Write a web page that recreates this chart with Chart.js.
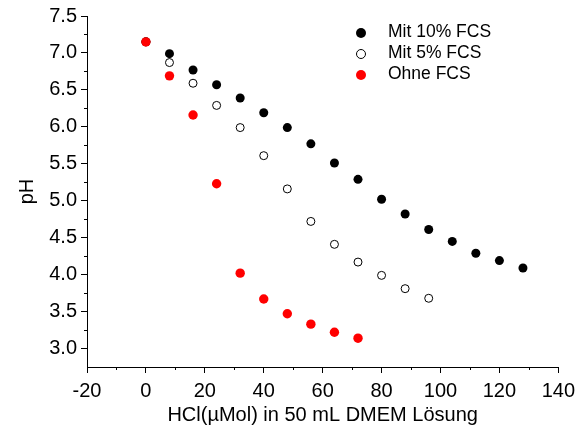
<!DOCTYPE html>
<html>
<head>
<meta charset="utf-8">
<script src="https://cdn.jsdelivr.net/npm/chart.js@4"></script>
<style>
  body { margin: 0; background: #fff; }
  #wrap { position: relative; width: 581px; height: 432px; }
  .legend { position: absolute; left: 356px; top: 21px; font: 17.5px "Liberation Sans", Arial, sans-serif; color: #000; }
  .legend div { height: 21px; line-height: 21px; white-space: nowrap; }
  .dot { display: inline-block; width: 10px; height: 10px; border-radius: 50%; box-sizing: border-box; margin-right: 22px; vertical-align: -1px; }
</style>
</head>
<body>
<div id="wrap">
  <canvas id="c" width="581" height="432"></canvas>
  <div class="legend">
    <div><span class="dot" style="background:#000"></span>Mit 10% FCS</div>
    <div><span class="dot" style="border:1px solid #000;background:#fff"></span>Mit 5% FCS</div>
    <div><span class="dot" style="background:#f00"></span>Ohne FCS</div>
  </div>
</div>
<script>
const hclValues = [0, 8, 16, 24, 32, 40, 48, 56, 64, 72, 80, 88, 96, 104, 112, 120, 128];
const fcs10 = [7.15, 6.99, 6.77, 6.57, 6.39, 6.19, 5.99, 5.77, 5.51, 5.29, 5.02, 4.82, 4.61, 4.45, 4.29, 4.19, 4.09];
const fcs5 = [7.15, 6.87, 6.59, 6.29, 5.99, 5.61, 5.16, 4.72, 4.41, 4.17, 3.99, 3.81, 3.68];
const ohneFcs = [7.15, 6.69, 6.16, 5.23, 4.02, 3.67, 3.47, 3.33, 3.22, 3.14];

const toPoints = vals => vals.map((v, i) => ({ x: hclValues[i], y: v }));
const font = { family: '"Liberation Sans", Arial, sans-serif', size: 20 };

// minor ticks halfway between the major ones
const minorTicks = {
  id: "minorTicks",
  afterDraw(chart) {
    const ctx = chart.ctx;
    ctx.save();
    ctx.strokeStyle = "#000";
    ctx.lineWidth = 1;
    const xs = chart.scales.x;
    for (let v = xs.min + 10; v < xs.max; v += 20) {
      const px = Math.round(xs.getPixelForValue(v)) + 0.5;
      ctx.beginPath();
      ctx.moveTo(px, xs.top);
      ctx.lineTo(px, xs.top + 3);
      ctx.stroke();
    }
    const ys = chart.scales.y;
    for (let v = 3.25; v < ys.max; v += 0.5) {
      const py = Math.round(ys.getPixelForValue(v)) + 0.5;
      ctx.beginPath();
      ctx.moveTo(ys.right, py);
      ctx.lineTo(ys.right - 3, py);
      ctx.stroke();
    }
    ctx.restore();
  }
};

new Chart(document.getElementById("c"), {
  type: "scatter",
  data: {
    datasets: [
      { label: "Mit 10% FCS", data: toPoints(fcs10), order: 2,
        pointRadius: 4.5, pointBackgroundColor: "#000", pointBorderColor: "#000", pointBorderWidth: 0 },
      { label: "Mit 5% FCS", data: toPoints(fcs5), order: 1,
        pointRadius: 4, pointBackgroundColor: "#fff", pointBorderColor: "#000", pointBorderWidth: 1 },
      { label: "Ohne FCS", data: toPoints(ohneFcs), order: 0,
        pointRadius: 4.7, pointBackgroundColor: "#f00", pointBorderColor: "#f00", pointBorderWidth: 0 }
    ]
  },
  options: {
    responsive: false,
    animation: false,
    layout: { padding: { top: 16, right: 21, bottom: 0, left: 0 } },
    plugins: { legend: { display: false }, tooltip: { enabled: false } },
    scales: {
      x: {
        type: "linear",
        min: -20, max: 140,
        border: { color: "#000", width: 1 },
        grid: { drawOnChartArea: false, color: "#000", tickLength: 6 },
        ticks: { stepSize: 20, color: "#000", font: font, padding: 6, maxRotation: 0 },
        title: { display: true, text: "HCl(µMol) in 50 mL DMEM Lösung", color: "#000", font: font, padding: { top: 0, bottom: 5 } },
        afterFit: s => { s.height = 65; }
      },
      y: {
        min: 2.75, max: 7.5,
        border: { color: "#000", width: 1 },
        grid: { drawOnChartArea: false, color: "#000", tickLength: 6 },
        ticks: { stepSize: 0.5, includeBounds: false, color: "#000", font: font, padding: 4,
                 callback: v => v.toFixed(1) },
        title: { display: true, text: "pH", color: "#000", font: font, padding: { top: 15, bottom: 0 } },
        afterFit: s => { s.width = 87; }
      }
    }
  },
  plugins: [minorTicks]
});
</script>
</body>
</html>
